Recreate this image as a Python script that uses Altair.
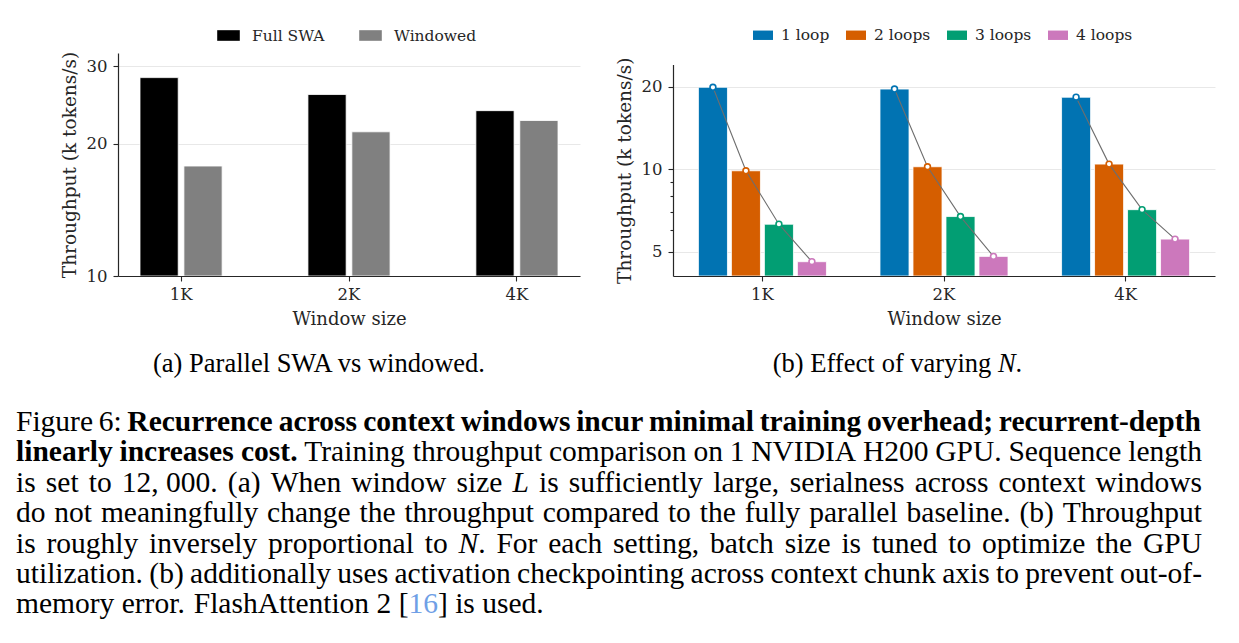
import altair as alt
import pandas as pd

# ---------------- data ----------------
WINDOWS = ["1K", "2K", "4K"]

SWA_SERIES = ["Full SWA", "Windowed"]
SWA_FULL = [28.3, 25.9, 23.8]
SWA_WINDOWED = [17.8, 21.3, 22.6]
SWA_COLORS = ["#000000", "#808080"]

LOOPS = ["1 loop", "2 loops", "3 loops", "4 loops"]
LOOP_1 = [19.9, 19.6, 18.3]
LOOP_2 = [9.86, 10.2, 10.43]
LOOP_3 = [6.29, 6.71, 7.11]
LOOP_4 = [4.59, 4.80, 5.55]
LOOP_COLORS = ["#0173B2", "#D55E00", "#029E73", "#CC78BC"]

LEFT_DOMAIN = [10, 32.2]
RIGHT_DOMAIN = [4.07, 24.1]
LEFT_TICKS = [10, 20, 30]
RIGHT_MAJOR = [5, 10, 20]
RIGHT_MINOR = [6, 7, 8, 9]

SUBCAP_A = "(a) Parallel SWA vs windowed."
SUBCAP_B = [("(b) Effect of varying", "n", False), ("N", "i", False), (".", "n", True)]

CAPTION = [
    [("Figure 6:", "n", False),
     ("Recurrence across context windows incur minimal training overhead; recurrent-depth", "b", False)],
    [("linearly increases cost.", "b", False),
     ("Training throughput comparison on 1 NVIDIA H200 GPU. Sequence length", "n", False)],
    [("is set to 12,\u00a0000. (a) When window size", "n", False), ("L", "i", False),
     ("is sufficiently large, serialness across context windows", "n", False)],
    [("do not meaningfully change the throughput compared to the fully parallel baseline. (b) Throughput", "n", False)],
    [("is roughly inversely proportional to", "n", False), ("N", "i", False),
     (". For each setting, batch size is tuned to optimize the GPU", "n", True)],
    [("utilization. (b) additionally uses activation checkpointing across context chunk axis to prevent out-of-", "n", False)],
    [("memory error. FlashAttention 2 [", "n", False), ("16", "l", True), ("] is used.", "n", True)],
]

# ---------------- layout constants ----------------
OX, OY = 118, 53          # origin of the plot areas on the page
PANEL_H = 223
LEFT_W = 462
RIGHT_W = 542
GAP = 93
CHART_FONT = "DejaVu Serif"
CAP_FONT = "Liberation Serif"
INK = "#262626"
GRID = "#e8e8e8"
TICK_FS = 16.5

# ---------------- Times metrics (for justified caption) ----------------
_N = dict(zip(" ,-.:;()[]0123456789", [250, 250, 333, 250, 278, 278, 333, 333, 333, 333] + [500] * 10))
_N.update(dict(zip("ABCDEFGHIJKLMNOPQRSTUVWXYZ",
                   [722, 667, 667, 722, 611, 556, 722, 722, 333, 389, 722, 611, 889, 722, 722, 556, 722, 667, 556, 611, 722, 722, 944, 722, 722, 611])))
_N.update(dict(zip("abcdefghijklmnopqrstuvwxyz",
                   [444, 500, 444, 500, 444, 333, 500, 500, 278, 278, 500, 278, 778, 500, 500, 500, 500, 333, 389, 278, 500, 500, 722, 500, 500, 444])))
_N["\u00a0"] = 250
_B = dict(_N)
_B.update(dict(zip("abcdefghijklmnopqrstuvwxyz",
                   [500, 556, 444, 556, 444, 333, 500, 556, 278, 333, 556, 278, 833, 556, 500, 556, 556, 444, 389, 333, 556, 500, 722, 500, 500, 444])))
_B.update({"R": 722, ";": 333, ":": 333})
_I = dict(_N)
_I.update({"L": 556, "N": 667})


def text_width(t, style, size):
    table = _B if style == "b" else (_I if style == "i" else _N)
    return sum(table.get(c, 500) for c in t) / 1000.0 * size


def layout_line(segments, y, left, size, right=None):
    words = []
    for text, style, join in segments:
        for k, p in enumerate(text.split(" ")):
            if p == "":
                continue
            if k == 0 and join and words:
                words[-1].append((p, style))
            else:
                words.append([(p, style)])
    widths = [sum(text_width(t, s, size) for t, s in w) for w in words]
    if right is not None and len(words) > 1:
        gap = (right - left - sum(widths)) / (len(words) - 1)
    else:
        gap = 0.25 * size
    rows, x = [], left
    for w, wd in zip(words, widths):
        xx = x
        for t, s in w:
            rows.append({"x": xx, "y": y, "text": t, "style": s, "size": size})
            xx += text_width(t, s, size)
        x += wd + gap
    return rows, sum(widths) + gap * (len(words) - 1)


# ---------------- left panel ----------------
swa_rows = []
for s, vals in zip(SWA_SERIES, [SWA_FULL, SWA_WINDOWED]):
    for w, v in zip(WINDOWS, vals):
        swa_rows.append({"window": w, "series": s, "value": v})
swa_df = pd.DataFrame(swa_rows)


def x_axis():
    return alt.Axis(title="Window size", labelAngle=0, tickSize=5, labelPadding=5, titlePadding=8,
                    grid=False, domainColor=INK, domainWidth=1.2, tickColor=INK, tickWidth=1.1,
                    labelColor=INK, titleColor=INK, labelFontSize=TICK_FS, titleFontSize=18,
                    labelFont=CHART_FONT, titleFont=CHART_FONT, titleFontWeight="normal", zindex=1)


def y_axis(values, **kw):
    return alt.Axis(title="Throughput (k tokens/s)", values=values, grid=True, gridColor=GRID, gridWidth=1,
                    tickColor=INK, tickWidth=1.1, domainColor=INK, domainWidth=1.2, labelPadding=6,
                    titlePadding=7, labelColor=INK, titleColor=INK, labelFontSize=TICK_FS, titleFontSize=18.5,
                    labelFont=CHART_FONT, titleFont=CHART_FONT, titleFontWeight="normal", format="~g", **kw)


rect_path = "M-1,-0.47L1,-0.47L1,0.47L-1,0.47Z"

left = alt.Chart(swa_df).mark_bar(stroke="white", strokeWidth=0.8).encode(
    x=alt.X("window:N", sort=WINDOWS, scale=alt.Scale(paddingInner=0.511, paddingOuter=0.131), axis=x_axis()),
    xOffset=alt.XOffset("series:N", sort=SWA_SERIES, scale=alt.Scale(paddingInner=0.13)),
    y=alt.Y("value:Q", scale=alt.Scale(type="log", domain=LEFT_DOMAIN, range=[PANEL_H, 0]),
            axis=y_axis(LEFT_TICKS, tickSize=5)),
    y2=alt.datum(LEFT_DOMAIN[0]),
    color=alt.Color("series:N", sort=SWA_SERIES, scale=alt.Scale(domain=SWA_SERIES, range=SWA_COLORS),
                    legend=alt.Legend(title=None, orient="none", legendX=99, legendY=-29, direction="horizontal",
                                      columns=2, symbolType=rect_path, symbolSize=511, symbolStrokeWidth=0,
                                      labelFontSize=15.5, labelFont=CHART_FONT, labelColor=INK,
                                      labelOffset=12, columnPadding=34)),
).properties(width=LEFT_W, height=PANEL_H)

# ---------------- right panel ----------------
loop_rows = []
for n, (name, vals) in enumerate(zip(LOOPS, [LOOP_1, LOOP_2, LOOP_3, LOOP_4])):
    for w, v in zip(WINDOWS, vals):
        loop_rows.append({"window": w, "loops": name, "n": n + 1, "value": v})
loop_df = pd.DataFrame(loop_rows)

major_test = "indexof([5, 10, 20], datum.value) >= 0"
rx = alt.X("window:N", sort=WINDOWS, scale=alt.Scale(paddingInner=0.295, paddingOuter=0.14), axis=x_axis())
rxo = alt.XOffset("loops:N", sort=LOOPS, scale=alt.Scale(paddingInner=0.12))
ry = alt.Y("value:Q", scale=alt.Scale(type="log", domain=RIGHT_DOMAIN, range=[PANEL_H, 11.5]),
           axis=y_axis(RIGHT_MAJOR + RIGHT_MINOR,
                       labelExpr=f"{major_test} ? datum.label : ''",
                       tickSize={"condition": {"test": major_test, "value": 5}, "value": 3},
                       gridOpacity={"condition": {"test": major_test, "value": 1}, "value": 0}))

r_bars = alt.Chart(loop_df).mark_bar(stroke="white", strokeWidth=0.8).encode(
    x=rx, xOffset=rxo, y=ry, y2=alt.datum(RIGHT_DOMAIN[0]),
    color=alt.Color("loops:N", sort=LOOPS, scale=alt.Scale(domain=LOOPS, range=LOOP_COLORS),
                    legend=alt.Legend(title=None, orient="none", legendX=80, legendY=-28, direction="horizontal",
                                      columns=4, symbolType=rect_path, symbolSize=400, symbolStrokeWidth=0,
                                      labelFontSize=15.5, labelFont=CHART_FONT, labelColor=INK,
                                      labelOffset=8, columnPadding=16)),
)
r_line = alt.Chart(loop_df).mark_line(color="#6e6e6e", strokeWidth=1.1).encode(
    x=rx, xOffset=rxo, y=ry, detail="window:N", order="n:Q")
r_pts = alt.Chart(loop_df).mark_point(shape="circle", size=34, fill="white", fillOpacity=1,
                                      strokeWidth=1.6, opacity=1).encode(
    x=rx, xOffset=rxo, y=ry,
    stroke=alt.Stroke("loops:N", sort=LOOPS, scale=alt.Scale(domain=LOOPS, range=LOOP_COLORS), legend=None))

right = alt.layer(r_bars, r_line, r_pts).properties(width=RIGHT_W, height=PANEL_H)

# ---------------- captions ----------------
# the nested flush concat gives the caption block the same origin as the plot panels
CAP_X0, CAP_Y0 = OX, OY
cap_rows = []
cap_rows.append({"x": 319, "y": 372, "text": SUBCAP_A, "style": "c", "size": 26.5})
_, wb = layout_line(SUBCAP_B, 372, 0, 26.5)
rows_b, _ = layout_line(SUBCAP_B, 372, 897.5 - wb / 2, 26.5)
cap_rows += rows_b
for i, line in enumerate(CAPTION):
    last = i == len(CAPTION) - 1
    rows, _ = layout_line(line, 431 + i * 30.4, 16, 29.5, None if last else 1202)
    cap_rows += rows
cap_df = pd.DataFrame(cap_rows)
cap_df["x"] = cap_df["x"] - CAP_X0
cap_df["y"] = cap_df["y"] - CAP_Y0

STYLE = {"n": ("normal", "normal", "#000000", "left"),
         "b": ("bold", "normal", "#000000", "left"),
         "i": ("normal", "italic", "#000000", "left"),
         "l": ("normal", "normal", "#6f9fe6", "left"),
         "c": ("normal", "normal", "#000000", "center")}

bounds = alt.Chart(pd.DataFrame({"k": [0]})).mark_rect(opacity=0).encode(
    x=alt.value(-CAP_X0), x2=alt.value(1239 - CAP_X0), y=alt.value(-CAP_Y0), y2=alt.value(643 - CAP_Y0))

cap_layers = [bounds]
for key, (fw, fs, col, al) in STYLE.items():
    sub = cap_df[cap_df["style"] == key]
    if len(sub) == 0:
        continue
    cap_layers.append(
        alt.Chart(sub).mark_text(font=CAP_FONT, fontWeight=fw, fontStyle=fs, color=col, align=al,
                                 baseline="alphabetic").encode(
            x=alt.X("x:Q", scale=None, axis=None), y=alt.Y("y:Q", scale=None, axis=None),
            text="text:N", size=alt.Size("size:Q", scale=None, legend=None)))
caption = alt.layer(*cap_layers).properties(width=LEFT_W + GAP + RIGHT_W, height=300)

# ---------------- assemble ----------------
top = alt.hconcat(left, right, spacing=GAP, bounds="flush").resolve_scale(
    x="independent", y="independent", color="independent", stroke="independent", xOffset="independent"
).resolve_legend(color="independent")

chart = alt.vconcat(top, caption, spacing=0, bounds="flush").properties(padding=0).configure_view(stroke=None)

chart.save("out.html", embed_options={"renderer": "svg", "actions": False})
